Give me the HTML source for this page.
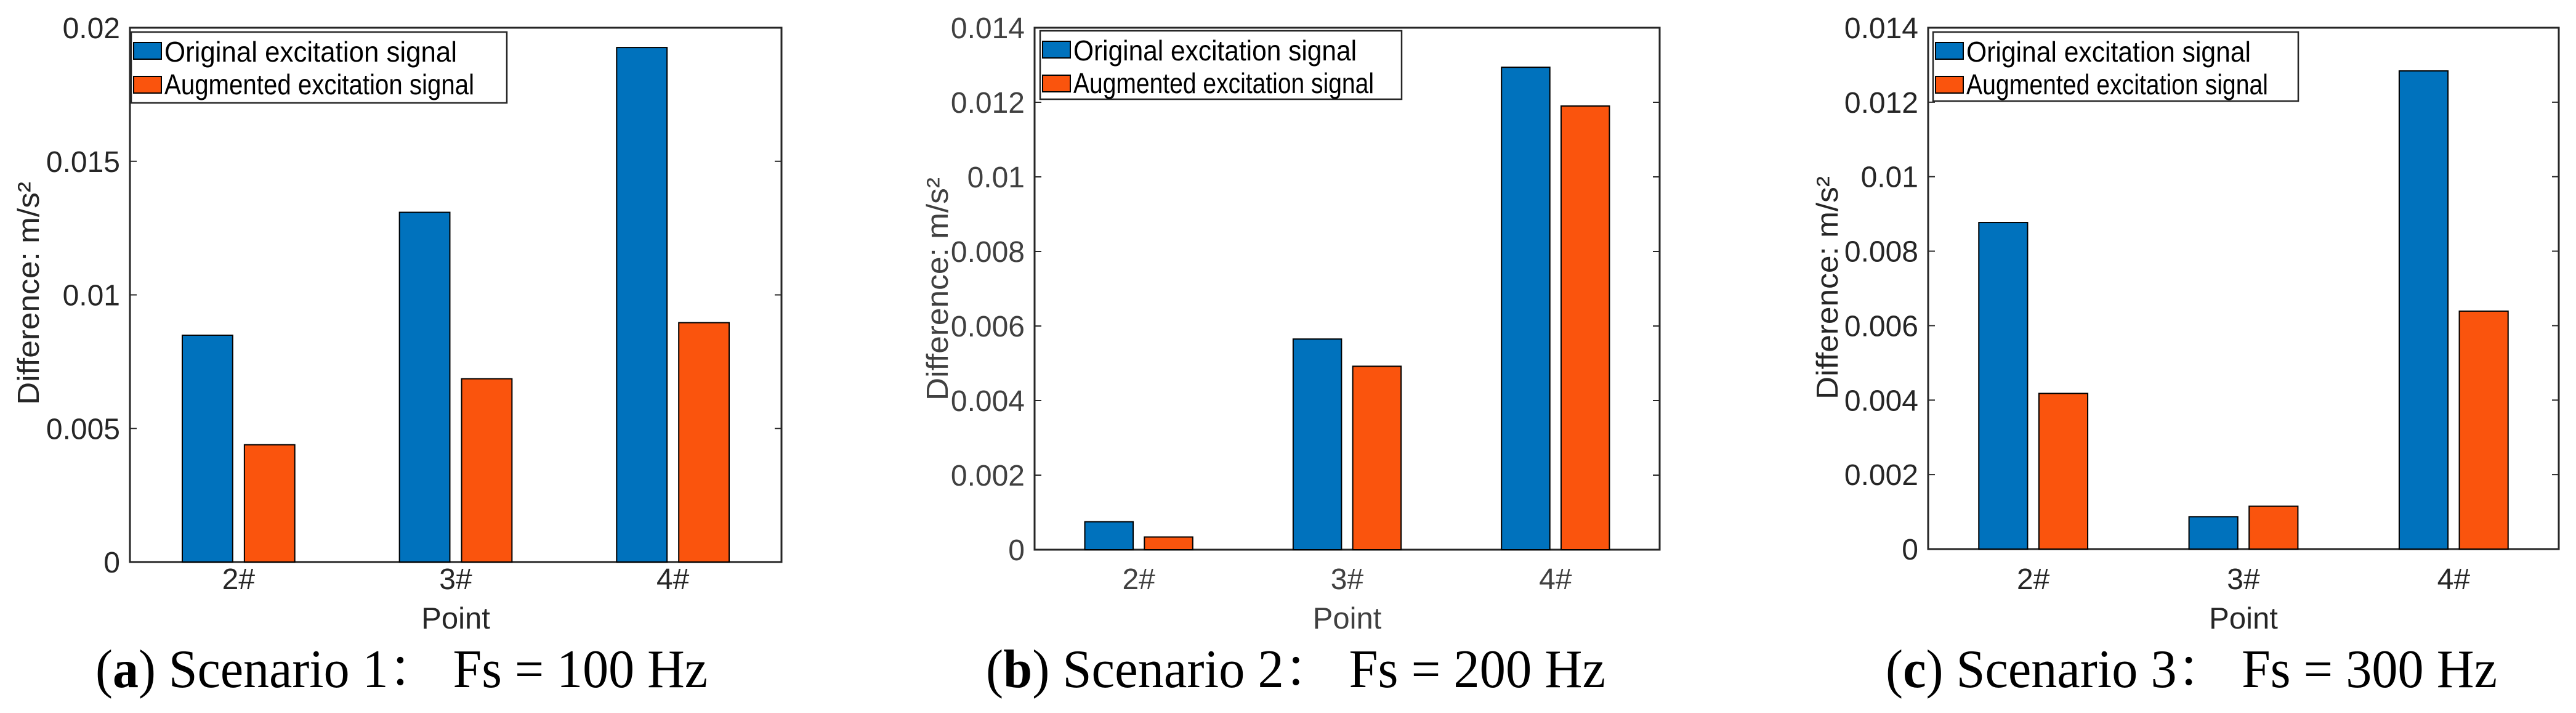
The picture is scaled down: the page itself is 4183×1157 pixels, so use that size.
<!DOCTYPE html>
<html><head><meta charset="utf-8">
<style>
html,body{margin:0;padding:0;background:#fff;}
svg{display:block;}
</style></head>
<body>
<svg id="fig" width="4183" height="1157" viewBox="0 0 4183 1157" xmlns="http://www.w3.org/2000/svg"></svg>
<script>
const categories = ["2#", "3#", "4#"];
const seriesNames = ["Original excitation signal", "Augmented excitation signal"];
const originalA = [0.00849, 0.01309, 0.01926];
const augmentedA = [0.00439, 0.00686, 0.00896];
const originalB = [0.00075, 0.00565, 0.01294];
const augmentedB = [0.00034, 0.00492, 0.0119];
const originalC = [0.00877, 0.00087, 0.01284];
const augmentedC = [0.00418, 0.00115, 0.00639];
const ticksA = [0, 0.005, 0.01, 0.015, 0.02];
const tickLabelsA = ["0", "0.005", "0.01", "0.015", "0.02"];
const ticksBC = [0, 0.002, 0.004, 0.006, 0.008, 0.01, 0.012, 0.014];
const tickLabelsBC = ["0", "0.002", "0.004", "0.006", "0.008", "0.01", "0.012", "0.014"];
const captionsText = ["Scenario 1：  Fs = 100 Hz", "Scenario 2：  Fs = 200 Hz", "Scenario 3：  Fs = 300 Hz"];
const captionLetters = ["a", "b", "c"];

const NS = "http://www.w3.org/2000/svg";
const svg = document.getElementById("fig");
function mk(tag, attrs, parent){
  const e = document.createElementNS(NS, tag);
  for (const k in attrs) e.setAttribute(k, attrs[k]);
  (parent||svg).appendChild(e);
  return e;
}
const colors = ["#0072BD", "#FA540D"];

const panels = [
  {id:"a", L:211, R:1269, T:45, B:912, ymax:0.02, ticks:ticksA, labels:tickLabelsA, data:[originalA, augmentedA],
   legend:{x:213, y:52, w:610, h:115, tl:475}, tickColor:"#262626",
   ylab:{x:63, y:476}, cap:{x:155, w:994}},
  {id:"b", L:1680, R:2695, T:45, B:892, ymax:0.014, ticks:ticksBC, labels:tickLabelsBC, data:[originalB, augmentedB],
   legend:{x:1689, y:50, w:587, h:111, tl:460}, tickColor:"#404040",
   ylab:{x:1539, y:469}, cap:{x:1601, w:1006}},
  {id:"c", L:3131, R:4155, T:45, B:891, ymax:0.014, ticks:ticksBC, labels:tickLabelsBC, data:[originalC, augmentedC],
   legend:{x:3139, y:52, w:593, h:112, tl:462}, tickColor:"#262626",
   ylab:{x:2984, y:467}, cap:{x:3062, w:993}}
];

panels.forEach((p, pi) => {
  const g = mk("g", {});
  
  
  const yS = v => p.B - v / p.ymax * (p.B - p.T);
  const gw = (p.R - p.L) / 3;
  const xC = i => p.L + gw * (i + 0.5);
  const bw = gw * 0.232, off = gw * 0.143;

  const box = mk("rect", {x:p.L, y:p.T, width:p.R-p.L, height:p.B-p.T, fill:"#fff", stroke:"#262626", "stroke-width":3}, g);
  
  

  p.ticks.forEach((t, i) => {
    const y = yS(t);
    if (i > 0 && i < p.ticks.length - 1) {
      mk("line", {x1:p.L, x2:p.L+11, y1:y, y2:y, stroke:"#262626", "stroke-width":2}, g);
      mk("line", {x1:p.R-11, x2:p.R, y1:y, y2:y, stroke:"#262626", "stroke-width":2}, g);
    }
    const tx = mk("text", {x:p.L-16, y:y+17, "text-anchor":"end", "font-family":"Liberation Sans, sans-serif", "font-size":48, fill:p.tickColor}, g);
    tx.textContent = p.labels[i];
    
    
  });

  p.data.forEach((series, si) => {
    series.forEach((v, ci) => {
      const cx = xC(ci) + (si === 0 ? -off : off);
      const r = mk("rect", {x:cx-bw/2, y:yS(v), width:bw, height:p.B-yS(v), fill:colors[si], stroke:"#000", "stroke-width":2}, g);
      
      
    });
  });

  categories.forEach((c, ci) => {
    const t = mk("text", {x:xC(ci), y:956, "text-anchor":"middle", "font-family":"Liberation Sans, sans-serif", "font-size":48, fill:p.tickColor}, g);
    t.textContent = c;
    
    
  });

  const xt = mk("text", {x:(p.L+p.R)/2, y:1020, "text-anchor":"middle", "font-family":"Liberation Sans, sans-serif", "font-size":49, fill:p.tickColor}, g);
  xt.textContent = "Point";
  
  

  const yt = mk("text", {x:0, y:0, "text-anchor":"middle", "font-family":"Liberation Sans, sans-serif", "font-size":49, fill:p.tickColor, transform:`translate(${p.ylab.x},${p.ylab.y}) rotate(-90)`, textLength:362, lengthAdjust:"spacingAndGlyphs"}, g);
  yt.textContent = "Difference: m/s²";
  
  

  const lg = mk("g", {}, g);
  
  
  const L = p.legend;
  mk("rect", {x:L.x, y:L.y, width:L.w, height:L.h, fill:"#fff", stroke:"#262626", "stroke-width":2.5}, lg);
  seriesNames.forEach((n, si) => {
    const sy = L.y + 17 + si * 55;
    const sw = mk("rect", {x:L.x+4, y:sy, width:45, height:27, fill:colors[si], stroke:"#000", "stroke-width":2}, lg);
    
    
    const t = mk("text", {x:L.x+54, y:L.y+48+si*53, "font-family":"Liberation Sans, sans-serif", "font-size":46, fill:"#000", textLength:L.tl + (si===1?28:0), lengthAdjust:"spacingAndGlyphs"}, lg);
    t.textContent = n;
    
    
  });

  const cap = mk("text", {x:p.cap.x, y:1115, "font-family":"Liberation Serif, 'Noto Serif CJK SC', serif", "font-size":88, fill:"#000", textLength:p.cap.w, lengthAdjust:"spacingAndGlyphs"});
  
  
  const t1 = mk("tspan", {}, cap); t1.textContent = "(";
  const t2 = mk("tspan", {"font-weight":"bold"}, cap); t2.textContent = captionLetters[pi];
  const t3 = mk("tspan", {}, cap); t3.textContent = ") " + captionsText[pi];
});
</script>
</body></html>
